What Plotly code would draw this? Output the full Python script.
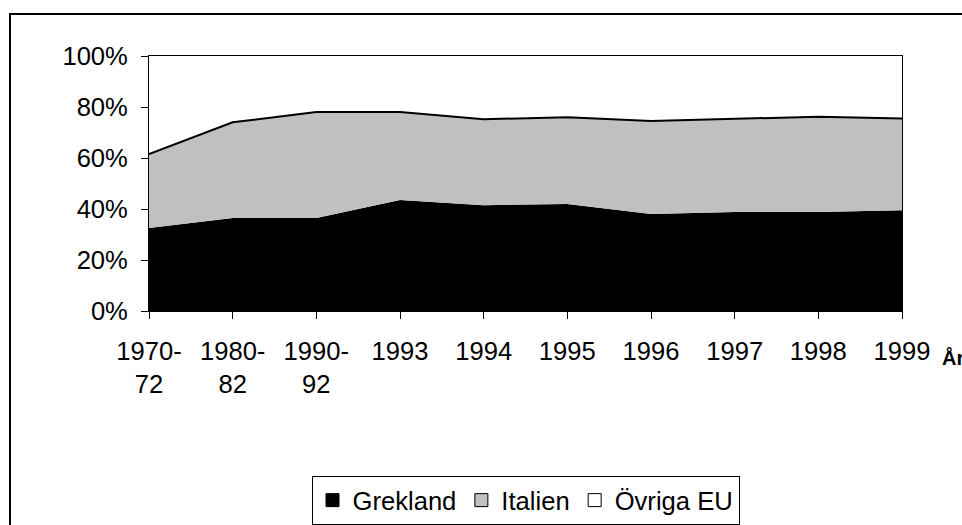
import plotly.graph_objects as go

# data (share in %)
years = ["1970-<br>72", "1980-<br>82", "1990-<br>92", "1993", "1994",
         "1995", "1996", "1997", "1998", "1999"]
grekland = [32.5, 36.5, 36.5, 43.5, 41.5, 42.0, 38.0, 38.8, 38.8, 39.5]
italien = [29.0, 37.5, 41.5, 34.5, 33.7, 34.0, 36.5, 36.6, 37.4, 36.0]
ovriga = [round(100 - g - i, 1) for g, i in zip(grekland, italien)]

names = ["Grekland", "Italien", "Övriga EU"]
colors = ["#000000", "#C0C0C0", "#FFFFFF"]

W, H = 962, 525
L, R, T, B = 149, 60, 56, 214
pw, ph = W - L - R, H - T - B

def px_x(x):
    # pixel -> paper coordinate
    return (x - L) / pw

def px_y(y):
    return (H - B - y) / ph

font = "Arial, Liberation Sans, sans-serif"
fs = 25.6

fig = go.Figure()

# stacked areas
fig.add_trace(go.Scatter(x=years, y=grekland, name=names[0], stackgroup="one",
                         mode="lines", line=dict(width=0, color="black"),
                         fillcolor=colors[0], showlegend=False, hoverinfo="skip"))
fig.add_trace(go.Scatter(x=years, y=italien, name=names[1], stackgroup="one",
                         mode="lines", line=dict(width=2, color="black"),
                         fillcolor=colors[1], showlegend=False, hoverinfo="skip"))
fig.add_trace(go.Scatter(x=years, y=ovriga, name=names[2], stackgroup="one",
                         mode="lines", line=dict(width=0, color="white"),
                         fillcolor=colors[2], showlegend=False, hoverinfo="skip"))

# legend entries (square swatches like the original)
for n, c in zip(names, colors):
    fig.add_trace(go.Scatter(x=[None], y=[None], name=n, mode="markers",
                             marker=dict(symbol="square", size=13, color=c,
                                         line=dict(color="black", width=1))))

fig.update_xaxes(type="category", range=[0, len(years) - 1],
                 showline=True, linecolor="black", linewidth=1, mirror=True,
                 ticks="outside", ticklen=7, tickcolor="black",
                 showgrid=False, tickfont=dict(size=fs, color="black"),
                 ticklabelstandoff=10)
fig.update_yaxes(range=[0, 100], dtick=20, ticksuffix="%",
                 showline=True, linecolor="black", linewidth=1, mirror=True,
                 ticks="outside", ticklen=7, tickcolor="black",
                 showgrid=False, zeroline=False,
                 tickfont=dict(size=fs, color="black"),
                 ticklabelstandoff=8)

# axis title "År", cut off at the right edge like the original
fig.add_annotation(text="<b>År</b>", xref="paper", yref="paper",
                   x=px_x(940), y=px_y(357), xanchor="left", yanchor="middle",
                   showarrow=False, font=dict(size=20, color="black"))

# outer chart frame (right and bottom edges fall outside the picture)
fig.add_shape(type="rect", xref="paper", yref="paper",
              x0=px_x(10), x1=px_x(1010), y0=px_y(560), y1=px_y(14),
              line=dict(color="black", width=2), fillcolor="rgba(0,0,0,0)")

fig.update_layout(
    width=W, height=H,
    margin=dict(l=L, r=R, t=T, b=B, autoexpand=False),
    paper_bgcolor="white", plot_bgcolor="white",
    font=dict(family=font, size=fs, color="black"),
    legend=dict(orientation="h", x=0.5, xanchor="center",
                y=px_y(476), yanchor="top", traceorder="normal",
                bordercolor="black", borderwidth=1,
                font=dict(size=fs), itemwidth=30, tracegroupgap=0),
    showlegend=True,
)

# drop the default page margin so the figure fills the window exactly
fig.write_html("out.html", config={"displayModeBar": False},
               post_script="document.body.style.margin='0';"
                           "document.body.style.overflow='hidden';")
